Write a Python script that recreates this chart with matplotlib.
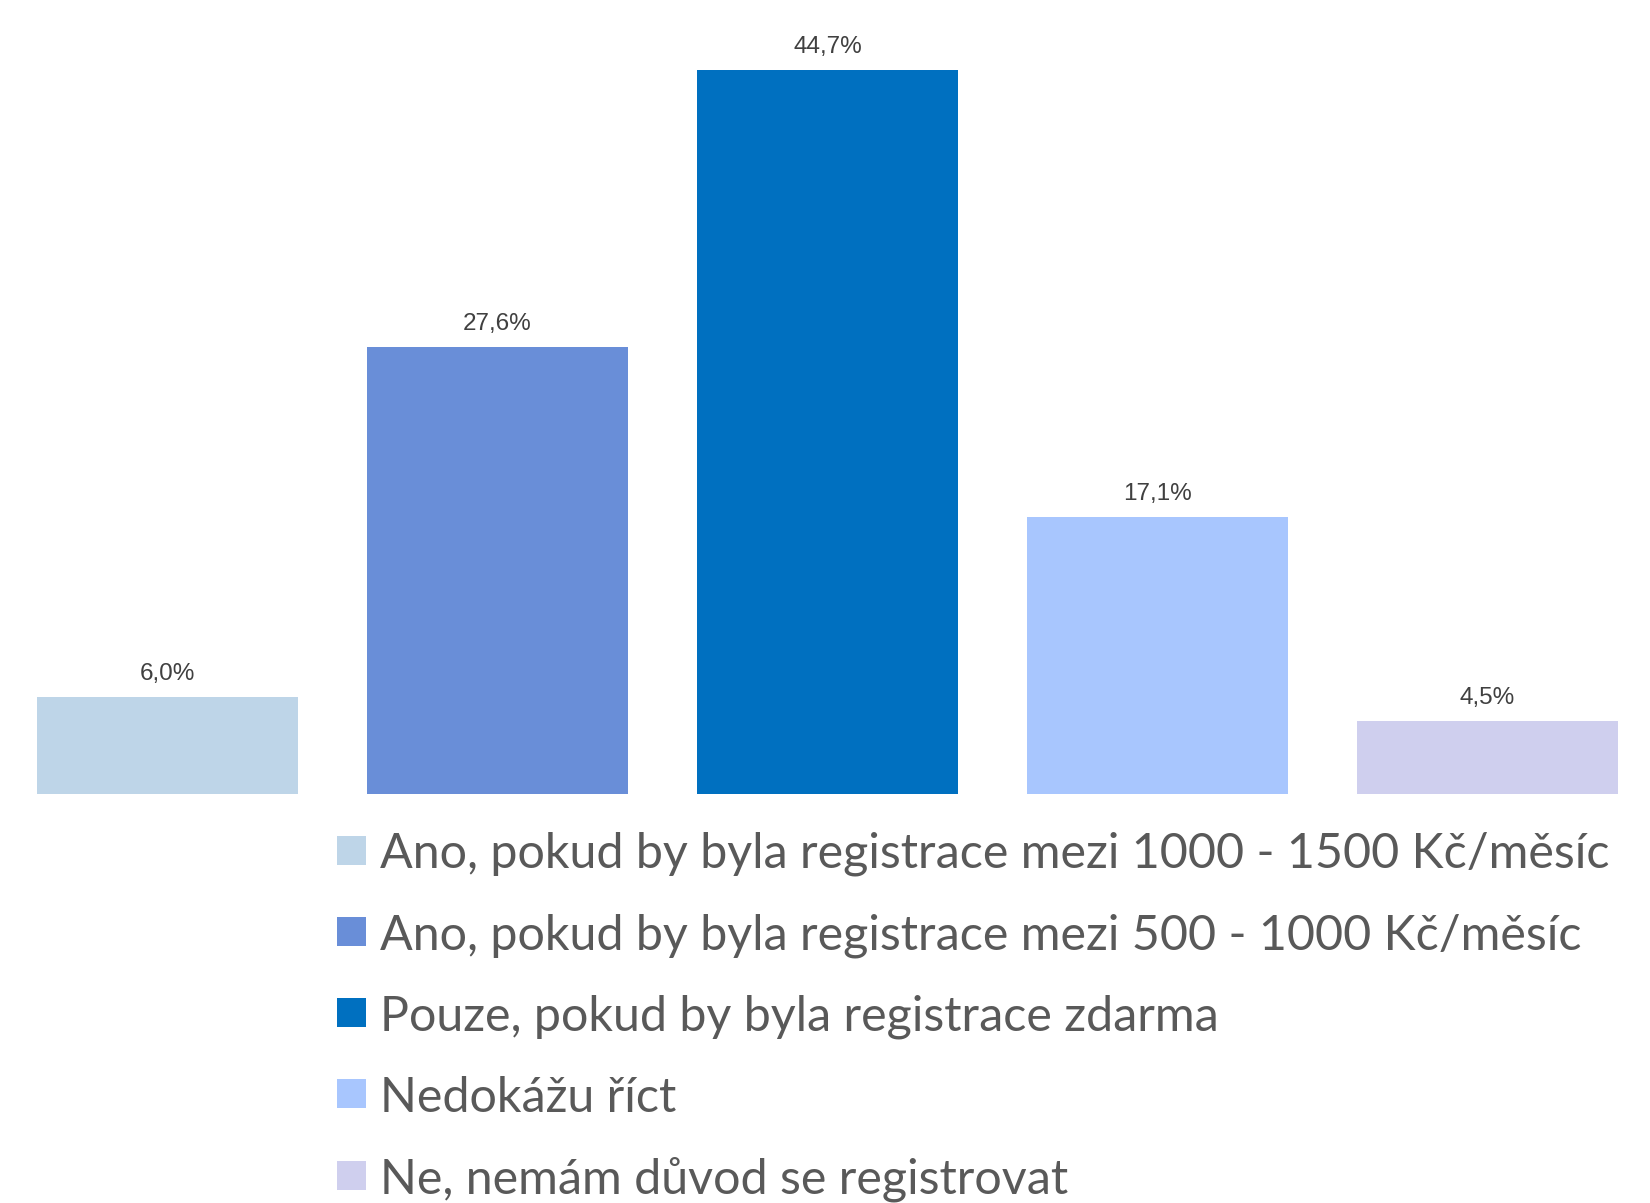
import matplotlib
matplotlib.use("Agg")
import matplotlib.pyplot as plt
from matplotlib.patches import Rectangle

# data
categories = [
    "Ano, pokud by byla registrace mezi 1000 - 1500 Kč/měsíc",
    "Ano, pokud by byla registrace mezi 500 - 1000 Kč/měsíc",
    "Pouze, pokud by byla registrace zdarma",
    "Nedokážu říct",
    "Ne, nemám důvod se registrovat",
]
values = [6.0, 27.6, 44.7, 17.1, 4.5]
colors = ["#BED5E8", "#698ED8", "#0070C0", "#A8C6FE", "#CFCFEE"]

W, H = 1650, 1203
fig = plt.figure(figsize=(W / 100, H / 100), dpi=100)

# axes: baseline at y=794 px, top of range at ~15 px
ax = fig.add_axes([2.5 / W, (H - 794.3) / H, 1.0, 777.5 / H])
x = list(range(len(values)))
bars = ax.bar(x, values, width=0.79, color=colors)
ax.set_xlim(-0.5, 4.5)
ax.set_ylim(0, 48)
ax.axis("off")

for b, v in zip(bars, values):
    ax.annotate(f"{v:.1f}%".replace(".", ","),
                (b.get_x() + b.get_width() / 2, b.get_height()),
                xytext=(0, 16.5), textcoords="offset points",
                ha="center", va="center", fontsize=17.5,
                family="Liberation Sans", color="#404040", clip_on=False)

# legend, drawn by hand in pixel coordinates
row0 = 850
step = 81.3
for i, (lab, c) in enumerate(zip(categories, colors)):
    cy = row0 + i * step
    fig.patches.append(Rectangle((337 / W, (H - cy - 14.5) / H), 29 / W, 29 / H,
                                 transform=fig.transFigure, facecolor=c,
                                 edgecolor="none"))
    fig.text(380 / W, (H - cy) / H, lab, ha="left", va="center_baseline",
             fontsize=34.8, family="Lato", color="#595959")

fig.savefig("out.png", dpi=100)
